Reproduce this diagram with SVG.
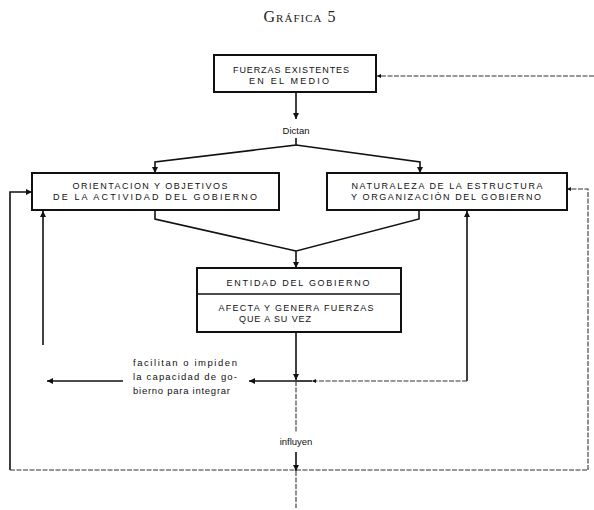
<svg xmlns="http://www.w3.org/2000/svg" width="594" height="510" viewBox="0 0 594 510">
<defs>
<marker id="ah" viewBox="0 0 10 10" refX="10" refY="5" markerWidth="4" markerHeight="4" orient="auto" markerUnits="strokeWidth">
<path d="M0,0 L10,5 L0,10 z" fill="#111"/>
</marker>
<style>
.box{fill:#fff;stroke:#111;stroke-width:2}
.bt{font-family:"Liberation Sans",Arial,sans-serif;font-size:9px;fill:#111;text-anchor:middle}
.lt{font-family:"Liberation Sans",Arial,sans-serif;font-size:9.5px;fill:#111}
.c{fill:none;stroke:#111;stroke-width:1.6}
.f{fill:none;stroke:#333;stroke-width:1.1;stroke-dasharray:5 1.5}
</style>
</defs>
<rect width="594" height="510" fill="#fff"/>
<text x="300" y="22" font-family="'Liberation Serif',serif" font-size="16" font-variant="small-caps" text-anchor="middle" letter-spacing="1" fill="#222">Gráfica 5</text>

<g id="connectors">
<path class="f" d="M594,76 H377" marker-end="url(#ah)"/>
<path class="c" d="M296,92 V119" marker-end="url(#ah)"/>
<path class="c" d="M296,138 V145 L155,162 V173" marker-end="url(#ah)"/>
<path class="c" d="M296,145 L420,162 V173" marker-end="url(#ah)"/>
<path class="c" d="M155,210 V219 L296,251"/>
<path class="c" d="M419,210 V219 L296,251 V268" marker-end="url(#ah)"/>
<path class="c" d="M296,332 V380" marker-end="url(#ah)"/>
<path class="c" d="M43,345 V211" marker-end="url(#ah)"/>
<path class="c" d="M10,470 V192 H32" marker-end="url(#ah)"/>
<path class="f" d="M588,470 V189 H567" marker-end="url(#ah)"/>
<path class="c" d="M467,381 V211" marker-end="url(#ah)"/>
<path class="f" d="M467,381 H312" marker-end="url(#ah)"/>
<path class="c" d="M312,381 H296"/>
<path class="c" d="M296,381 H249" marker-end="url(#ah)"/>
<path class="c" d="M123,381 H47" marker-end="url(#ah)"/>
<path class="f" d="M296,381 V432"/>
<path class="c" d="M296,452 V471" marker-end="url(#ah)"/>
<path class="f" d="M10,470 H588"/>
<path class="f" d="M296,471 V508"/>
</g>

<g id="fuerzas">
<rect class="box" x="214" y="55" width="162" height="37"/>
<text class="bt" x="291" y="73" textLength="116">FUERZAS EXISTENTES</text>
<text class="bt" x="289" y="84" textLength="80">EN EL MEDIO</text>
</g>

<text class="lt" x="296" y="134" text-anchor="middle">Dictan</text>

<g id="orientacion">
<rect class="box" x="32" y="173" width="247" height="37"/>
<text class="bt" x="150" y="189" textLength="155">ORIENTACION Y OBJETIVOS</text>
<text class="bt" x="155" y="200" textLength="204">DE LA ACTIVIDAD DEL GOBIERNO</text>
</g>

<g id="naturaleza">
<rect class="box" x="327" y="173" width="240" height="37"/>
<text class="bt" x="447" y="189" textLength="191">NATURALEZA DE LA ESTRUCTURA</text>
<text class="bt" x="446" y="200" textLength="190">Y ORGANIZACIÓN DEL GOBIERNO</text>
</g>

<g id="entidad">
<rect class="box" x="197" y="268" width="204" height="64"/>
<line x1="197" y1="294" x2="401" y2="294" stroke="#111" stroke-width="1.6"/>
<text class="bt" x="298" y="286" textLength="143">ENTIDAD DEL GOBIERNO</text>
<text class="bt" x="296" y="311" textLength="155">AFECTA Y GENERA FUERZAS</text>
<text class="bt" x="275" y="322" textLength="72">QUE A SU VEZ</text>
</g>

<g id="facilitan">
<text class="lt" x="133" y="366" textLength="104">facilitan o impiden</text>
<text class="lt" x="133" y="380" textLength="104">la capacidad de go-</text>
<text class="lt" x="133" y="394" textLength="97">bierno para integrar</text>
</g>

<text class="lt" x="296" y="445" text-anchor="middle">influyen</text>
</svg>
